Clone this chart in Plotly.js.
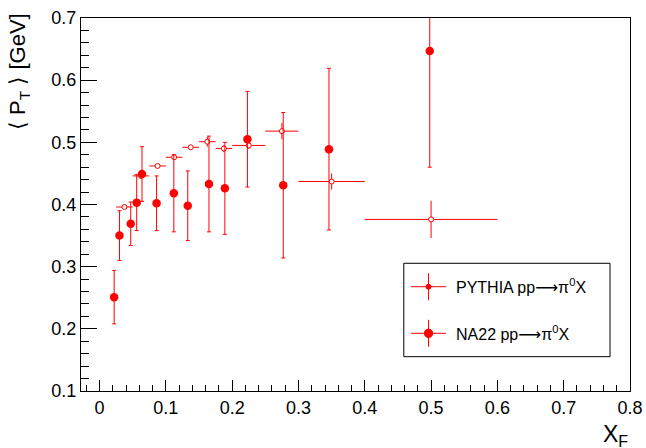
<!DOCTYPE html>
<html><head><meta charset="utf-8">
<script src="https://cdn.plot.ly/plotly-3.0.1.min.js"></script>
<style>html,body{margin:0;padding:0;background:#fff}#chart{width:646px;height:448px}</style>
</head><body><div id="chart"></div>
<script>
// PYTHIA pp -> pi0 X (bin centres, half bin widths, <pT>, stat. errors)
const pythiaX    = [0.0375,0.0625,0.0875,0.1125,0.1375,0.1625,0.1875,0.225,0.275,0.35,0.5];
const pythiaXErr = [0.0125,0.0125,0.0125,0.0125,0.0125,0.0125,0.0125,0.025,0.025,0.05,0.1];
const pythiaY    = [0.396,0.446,0.462,0.476,0.492,0.501,0.490,0.495,0.518,0.437,0.376];
const pythiaYErr = [0.003,0.003,0.003,0.003,0.004,0.008,0.006,0.006,0.013,0.013,0.030];

// NA22 pp -> pi0 X measurements
const na22X   = [0.022,0.030,0.047,0.056,0.064,0.086,0.112,0.133,0.165,0.189,0.223,0.277,0.346,0.498];
const na22Y   = [0.251,0.350,0.369,0.403,0.449,0.402,0.418,0.398,0.433,0.426,0.505,0.431,0.489,0.647];
const na22Err = [0.043,0.040,0.035,0.045,0.044,0.044,0.062,0.056,0.077,0.074,0.077,0.117,0.130,0.187];

const ARROW = '<span style="font-family:DejaVu Sans">⟶</span>';
const legendLabels = ['PYTHIA pp' + ARROW + 'π<sup>0</sup>X', 'NA22 pp' + ARROW + 'π<sup>0</sup>X'];
const xTitle = 'X<sub>F</sub>';
const yTitle = '⟨ P<sub>T</sub> ⟩ [GeV]';

const FONT = 'Liberation Sans, Arial, Helvetica, sans-serif';
const RED = '#ff0000';

const traces = [
  {
    type: 'scatter', mode: 'markers', name: 'PYTHIA',
    x: pythiaX, y: pythiaY,
    error_x: {type: 'data', array: pythiaXErr, visible: true, color: RED, thickness: 1, width: 0},
    error_y: {type: 'data', array: pythiaYErr, visible: true, color: RED, thickness: 1, width: 0},
    marker: {symbol: 'circle', size: 5, color: '#ffffff', line: {color: RED, width: 1}},
    showlegend: false
  },
  {
    type: 'scatter', mode: 'markers', name: 'NA22',
    x: na22X, y: na22Y,
    error_y: {type: 'data', array: na22Err, visible: true, color: RED, thickness: 1, width: 2},
    marker: {symbol: 'circle', size: 8.5, color: RED},
    showlegend: false
  }
];

// legend box geometry in paper units
const lgX0 = 0.588, lgX1 = 0.9636, lgY0 = 0.092, lgY1 = 0.3424;
const symX = 0.633;           // centre of the legend symbol
const rowY = [0.2796, 0.1547];
const txtX = 0.679;

const shapes = [
  {type: 'rect', xref: 'paper', yref: 'paper', x0: lgX0, x1: lgX1, y0: lgY0, y1: lgY1,
   line: {color: '#000', width: 1}, fillcolor: 'rgba(255,255,255,1)', layer: 'above'}
];
rowY.forEach((ry, i) => {
  shapes.push({type: 'line', xref: 'paper', yref: 'paper', xsizemode: 'pixel', xanchor: symX,
    x0: -17.5, x1: 17.5, y0: ry, y1: ry, line: {color: RED, width: 1}, layer: 'above'});
  shapes.push({type: 'line', xref: 'paper', yref: 'paper', ysizemode: 'pixel', yanchor: ry,
    x0: symX, x1: symX, y0: -13.5, y1: 13.5, line: {color: RED, width: 1}, layer: 'above'});
  const r = i === 0 ? 2.5 : 4.2;
  shapes.push({type: 'circle', xref: 'paper', yref: 'paper', xsizemode: 'pixel', ysizemode: 'pixel',
    xanchor: symX, yanchor: ry, x0: -r, x1: r, y0: -r, y1: r,
    line: {color: RED, width: 1}, fillcolor: RED, layer: 'above'});
});

const annotations = legendLabels.map((t, i) => ({
  xref: 'paper', yref: 'paper', x: txtX, y: rowY[i], xanchor: 'left', yanchor: 'middle',
  text: t, showarrow: false, font: {family: FONT, size: 16, color: '#000'}
}));
annotations.push({
  xref: 'paper', yref: 'paper', x: 1.0, y: -0.075, xanchor: 'right', yanchor: 'top',
  text: xTitle, showarrow: false, font: {family: FONT, size: 23, color: '#000'}
});
annotations.push({
  xref: 'paper', yref: 'paper', x: -0.113, y: 1.02, xanchor: 'center', yanchor: 'top',
  text: yTitle, textangle: -90, showarrow: false, font: {family: FONT, size: 22, color: '#000'}
});

const layout = {
  width: 646, height: 448,
  margin: {l: 81, r: 16, t: 18, b: 57, pad: 0},
  paper_bgcolor: '#fff', plot_bgcolor: '#fff',
  font: {family: FONT, size: 18, color: '#000'},
  showlegend: false,
  xaxis: {
    range: [-0.028, 0.8], tick0: 0, dtick: 0.1, ticks: 'inside', ticklen: 11, tickwidth: 1,
    tickcolor: '#000', showgrid: false, zeroline: false, showline: true, linecolor: '#000',
    linewidth: 1, mirror: true, tickfont: {family: FONT, size: 18, color: '#000'},
    minor: {dtick: 0.02, ticks: 'inside', ticklen: 6, tickcolor: '#000', tickwidth: 1}
  },
  yaxis: {
    range: [0.1, 0.7], tick0: 0.1, dtick: 0.1, ticks: 'inside', ticklen: 16, tickwidth: 1,
    tickcolor: '#000', showgrid: false, zeroline: false, showline: true, linecolor: '#000',
    linewidth: 1, mirror: true, tickfont: {family: FONT, size: 18, color: '#000'},
    minor: {dtick: 0.02, ticks: 'inside', ticklen: 8, tickcolor: '#000', tickwidth: 1}
  },
  shapes: shapes,
  annotations: annotations
};

Plotly.newPlot('chart', traces, layout, {staticPlot: true, displayModeBar: false});
</script>
</body></html>
